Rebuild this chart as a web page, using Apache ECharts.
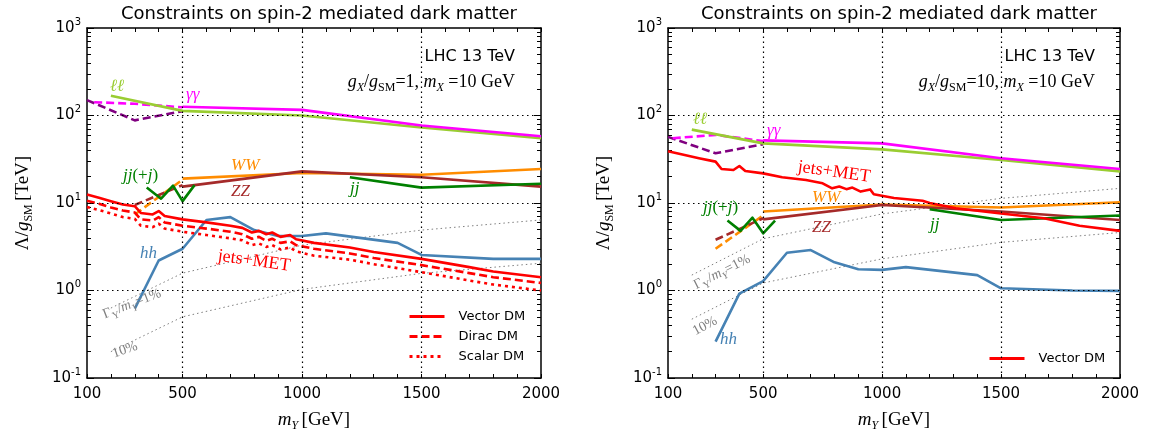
<!DOCTYPE html>
<html><head><meta charset="utf-8">
<script src="https://cdn.jsdelivr.net/npm/echarts@6/dist/echarts.min.js"></script>
<style>html,body{margin:0;padding:0;background:#fff}#c{width:1154px;height:439px}</style>
</head><body><div id="c"></div>
<script>
// ---------- axis / tick data ----------
const xTickLabels = [100, 500, 1000, 1500, 2000];
const xMinorTicks = [100,200,300,400,500,600,700,800,900,1000,1100,1200,1300,1400,1500,1600,1700,1800,1900,2000];
const yMajorTicks = [0.1, 1, 10, 100, 1000];
const yMinorTicks = [0.2,0.3,0.4,0.5,0.6,0.7,0.8,0.9,2,3,4,5,6,7,8,9,20,30,40,50,60,70,80,90,200,300,400,500,600,700,800,900];
const xGridLines = [500, 1000, 1500];
const yGridLines = [1, 10, 100];
const panelTitle = 'Constraints on spin-2 mediated dark matter';

// ---------- left panel: g_X/g_SM = 1 ----------
const L_ll = [[200,168],[500,113],[1000,100],[1500,73],[2000,55]];
const L_aa = [[500,126],[1000,116],[1500,77],[2000,58]];
const L_aaDash = [[130,142],[300,136],[500,124]];
const L_purple = [[100,150],[300,88],[500,112]];
const L_WW = [[500,19],[1000,22],[1500,21],[2000,24.5]];
const L_WWdash = [[300,7.4],[500,18.5]];
const L_ZZ = [[500,15.4],[1000,23],[1500,19.7],[2000,15.4]];
const L_ZZdash = [[300,9.5],[500,16]];
const L_jjj = [[350,15],[410,11.2],[460,15.8],[500,10.5],[550,16]];
const L_jj = [[1200,19.7],[1500,15],[2000,16.6]];
const L_hh = [[300,0.62],[400,2.2],[500,3.0],[600,6.4],[700,6.9],[800,4.9],[900,4.2],[1000,4.2],[1100,4.5],[1400,3.5],[1500,2.55],[1800,2.3],[2000,2.3]];
const L_metX = [100,150,200,250,300,325,375,400,425,500,600,700,750,790,820,850,875,910,950,975,1050,1200,1300,1500,1700,1800,2000];
const L_vector = [12.5,11.5,10.5,9.6,9.2,7.7,7.4,8.1,7.1,6.5,6.0,5.5,5.2,4.6,4.8,4.4,4.6,4.1,4.3,3.85,3.5,3.1,2.75,2.3,1.85,1.65,1.42];
const L_dirac = [10.6,9.8,8.9,8.2,7.8,6.5,6.3,6.9,6.0,5.5,5.1,4.7,4.4,3.9,4.1,3.7,3.9,3.5,3.65,3.3,3.0,2.65,2.35,1.95,1.58,1.42,1.22];
const L_scalar = [9.0,8.3,7.6,6.9,6.6,5.5,5.3,5.8,5.1,4.7,4.3,3.95,3.75,3.3,3.45,3.15,3.3,2.95,3.1,2.8,2.5,2.25,2.0,1.62,1.3,1.17,1.0];
const L_w1 = [[200,0.63],[500,1.58],[1000,3.3],[1500,4.9],[2000,6.4]];
const L_w10 = [[200,0.2],[500,0.5],[1000,1.03],[1500,1.57],[2000,2.05]];

// ---------- right panel: g_X/g_SM = 10 ----------
const R_ll = [[200,69],[500,48],[1000,41],[1500,31],[2000,23]];
const R_aa = [[500,52],[1000,48],[1500,32.5],[2000,24.5]];
const R_aaDash = [[120,55],[300,60],[500,51]];
const R_purple = [[100,57],[300,37],[500,47]];
const R_WW = [[500,8],[1000,9.6],[1500,8.9],[2000,10.2]];
const R_WWdash = [[300,3.0],[500,7.2]];
const R_ZZ = [[500,6.5],[1000,9.5],[1500,8],[2000,6.4]];
const R_ZZdash = [[300,3.8],[500,6.7]];
const R_jjj = [[350,6.3],[405,4.8],[455,6.8],[500,4.5],[550,6.3]];
const R_jj = [[1200,8.5],[1500,6.4],[2000,7.2]];
const R_hh = [[300,0.26],[400,0.92],[500,1.28],[600,2.7],[700,2.9],[800,2.1],[900,1.75],[1000,1.72],[1100,1.85],[1400,1.5],[1500,1.06],[1800,1.0],[2000,0.99]];
const R_metX = [100,170,230,300,325,375,400,425,500,580,680,750,790,820,850,875,910,950,965,1050,1170,1200,1310,1500,1680,1830,2000];
const R_vector = [39,35.4,32.5,29.7,24.5,23.8,26.5,23.2,21.8,19.7,18.3,16.8,14.7,15.4,14.4,15,13.5,14.3,12.6,11.4,10.6,10.0,8.7,7.6,6.7,5.5,4.8];
const R_w1 = [[200,1.5],[500,3.9],[1000,7.5],[1500,11.3],[2000,14.7]];
const R_w10 = [[200,0.47],[500,1.22],[1000,2.3],[1500,3.55],[2000,4.6]];

// ---------- styling ----------
const C = {ll:'#9ACD32', aa:'#FF00FF', purple:'#800080', WW:'#FF8C00', ZZ:'#A52A2A', jj:'#008000', hh:'#4682B4', met:'#FF0000', gray:'#808080'};
const SERIF = "'Liberation Serif','DejaVu Serif',serif";
const SANS = "'DejaVu Sans',sans-serif";
const DASH = [8, 4];
const DOT = [3, 4];
const LW = 2.6;

const grids = [
  {left: 87, top: 28, width: 454, height: 350},
  {left: 668, top: 28, width: 452, height: 350}
];

function zipXY(xs, ys){ return xs.map((x,i)=>[x, ys[i]]); }

const xAxes = [], yAxes = [];
const axLine = {show:true, onZero:false, lineStyle:{color:'#000', width:1.5}};
const tickLine = {color:'#000', width:1};
grids.forEach((g, gi) => {
  xAxes.push({type:'value', gridIndex:gi, min:100, max:2000, position:'bottom',
    axisLine:axLine,
    axisTick:{show:true, inside:true, length:4, customValues:xMinorTicks, lineStyle:tickLine},
    axisLabel:{show:true, customValues:xTickLabels, formatter:(v)=>String(v), color:'#000', fontSize:15, fontFamily:SANS, margin:9},
    splitLine:{show:false},
    name:'{i|m}{s|Y} {n|[GeV]}', nameLocation:'middle', nameGap:30,
    nameTextStyle:{rich:{i:{fontFamily:SERIF, fontStyle:'italic', fontSize:19, color:'#000', lineHeight:24},
      s:{fontFamily:SERIF, fontStyle:'italic', fontSize:12, color:'#000', lineHeight:12, verticalAlign:'bottom'},
      n:{fontFamily:SERIF, fontSize:19, color:'#000', lineHeight:24}}}
  });
  xAxes.push({type:'value', gridIndex:gi, min:100, max:2000, position:'top',
    axisLine:axLine,
    axisTick:{show:true, inside:true, length:4, customValues:xMinorTicks, lineStyle:tickLine},
    axisLabel:{show:false}, splitLine:{show:false}});
  const yBase = {type:'log', logBase:10, gridIndex:gi, min:0.1, max:1000, splitLine:{show:false}};
  yAxes.push(Object.assign({}, yBase, {position:'left', axisLine:axLine,
    axisTick:{show:true, inside:true, length:7, customValues:yMajorTicks, lineStyle:tickLine},
    axisLabel:{show:true, customValues:yMajorTicks, margin:6,
      formatter:(v)=>'{b|10}{s|' + Math.round(Math.log10(v)) + '}',
      rich:{b:{fontFamily:SANS, fontSize:15, color:'#000', lineHeight:22},
            s:{fontFamily:SANS, fontSize:10, color:'#000', lineHeight:12, verticalAlign:'top'}}},
    name:'{n|Λ/}{i|g}{s|SM} {n|[TeV]}', nameLocation:'middle', nameGap:52, nameRotate:90,
    nameTextStyle:{rich:{i:{fontFamily:SERIF, fontStyle:'italic', fontSize:19, color:'#000', lineHeight:24},
      s:{fontFamily:SERIF, fontSize:12, color:'#000', lineHeight:12, verticalAlign:'bottom'},
      n:{fontFamily:SERIF, fontSize:19, color:'#000', lineHeight:24}}}
  }));
  yAxes.push(Object.assign({}, yBase, {position:'left', axisLine:{show:false},
    axisTick:{show:true, inside:true, length:4, customValues:yMinorTicks, lineStyle:tickLine}, axisLabel:{show:false}}));
  yAxes.push(Object.assign({}, yBase, {position:'right', axisLine:axLine,
    axisTick:{show:true, inside:true, length:7, customValues:yMajorTicks, lineStyle:tickLine}, axisLabel:{show:false}}));
  yAxes.push(Object.assign({}, yBase, {position:'right', axisLine:{show:false},
    axisTick:{show:true, inside:true, length:4, customValues:yMinorTicks, lineStyle:tickLine}, axisLabel:{show:false}}));
});

const series = [];
function line(name, data, color, type, width, panel, z){
  series.push({type:'line', name, data, xAxisIndex: panel*2, yAxisIndex: panel*4,
    symbol:'none', silent:true, z: z || 3,
    lineStyle:{color, width, type, cap:'butt', join:'round'}, itemStyle:{color}});
}
function gridMarks(panel){
  series.push({type:'line', name:'grid'+panel, data:[], xAxisIndex: panel*2, yAxisIndex: panel*4, silent:true, z:1,
    markLine:{silent:true, symbol:'none', label:{show:false}, animation:false,
      lineStyle:{color:'#000', width:1.2, type:[1.5,3.5]},
      data: xGridLines.map(v=>({xAxis:v})).concat(yGridLines.map(v=>({yAxis:v})))}});
}

[
 {p:0, w1:L_w1, w10:L_w10, purple:L_purple, aaDash:L_aaDash, ll:L_ll, aa:L_aa, WWd:L_WWdash, ZZd:L_ZZdash, WW:L_WW, ZZ:L_ZZ, jjj:L_jjj, jj:L_jj, hh:L_hh},
 {p:1, w1:R_w1, w10:R_w10, purple:R_purple, aaDash:R_aaDash, ll:R_ll, aa:R_aa, WWd:R_WWdash, ZZd:R_ZZdash, WW:R_WW, ZZ:R_ZZ, jjj:R_jjj, jj:R_jj, hh:R_hh}
].forEach(d => {
  gridMarks(d.p);
  line('w1_'+d.p, d.w1, C.gray, [1.5,3], 1, d.p, 2);
  line('w10_'+d.p, d.w10, C.gray, [1.5,3], 1, d.p, 2);
  line('purple_'+d.p, d.purple, C.purple, DASH, LW, d.p);
  line('aad_'+d.p, d.aaDash, C.aa, DASH, LW, d.p);
  line('ll_'+d.p, d.ll, C.ll, 'solid', LW, d.p);
  line('aa_'+d.p, d.aa, C.aa, 'solid', LW, d.p);
  line('WWd_'+d.p, d.WWd, C.WW, DASH, LW, d.p);
  line('ZZd_'+d.p, d.ZZd, C.ZZ, DASH, LW, d.p);
  line('WW_'+d.p, d.WW, C.WW, 'solid', LW, d.p);
  line('ZZ_'+d.p, d.ZZ, C.ZZ, 'solid', LW, d.p);
  line('jjj_'+d.p, d.jjj, C.jj, 'solid', LW, d.p);
  line('jj_'+d.p, d.jj, C.jj, 'solid', LW, d.p);
  line('hh_'+d.p, d.hh, C.hh, 'solid', LW, d.p);
});
line('Vector DM', zipXY(L_metX, L_vector), C.met, 'solid', LW, 0, 4);
line('Dirac DM', zipXY(L_metX, L_dirac), C.met, DASH, LW, 0, 4);
line('Scalar DM', zipXY(L_metX, L_scalar), C.met, DOT, LW, 0, 4);
line('Vector DM', zipXY(R_metX, R_vector), C.met, 'solid', LW, 1, 4);

// ---------- text annotations ----------
const richMath = (size, color) => ({
  i:{fontFamily:SERIF, fontStyle:'italic', fontSize:size, fill:color, lineHeight:size+6},
  n:{fontFamily:SERIF, fontSize:size, fill:color, lineHeight:size+6},
  s:{fontFamily:SERIF, fontSize:Math.round(size*0.68), fill:color, lineHeight:Math.round(size*0.7), verticalAlign:'bottom'},
  si:{fontFamily:SERIF, fontStyle:'italic', fontSize:Math.round(size*0.68), fill:color, lineHeight:Math.round(size*0.7), verticalAlign:'bottom'}
});
function txt(x, y, text, opt){
  opt = opt || {};
  return {type:'text', x, y, rotation: opt.rot || 0, silent:true, z:100,
    style:{text, fill: opt.color || '#000', align: opt.align || 'left', verticalAlign:'middle',
      font: opt.font || ('16px ' + SANS), rich: opt.rich}};
}
const mathLabel = (size, color) => ({rich: richMath(size, color), color});
function annotations(off, gsm, T){
  const a = [];
  a.push(txt(515+off, 57, 'LHC 13 TeV', {align:'right'}));
  a.push(txt(515+off, 82, '{i|g}{si|X}{n|/}{i|g}{s|SM}{n|=' + gsm + ', }{i|m}{si|X}{n| =10 GeV}', Object.assign({align:'right'}, mathLabel(18,'#000'))));
  T.forEach(t => a.push(txt(t[0], t[1], t[2], Object.assign({rot:t[4]||0, align:t[5]||'left'}, mathLabel(t[6]||17, t[3])))));
  return a;
}
const leftTexts = [
  [110, 87, '{i|ℓℓ}', C.ll],
  [186, 95, '{i|γγ}', C.aa],
  [231, 166, '{i|WW}', C.WW],
  [231, 192, '{i|ZZ}', C.ZZ],
  [123, 176, '{i|jj}{n|(+}{i|j}{n|)}', C.jj],
  [350, 189, '{i|jj}', C.jj],
  [140, 254, '{i|hh}', C.hh],
  [254, 261, '{n|jets+MET}', C.met, -0.14, 'center', 18],
  [132, 304, '{n|Γ}{s|Y}{n|/}{i|m}{si|Y}{n|=1%}', C.gray, 0.37, 'center', 14],
  [125, 350, '{n|10%}', C.gray, 0.33, 'center', 14]
];
const rightTexts = [
  [693, 120, '{i|ℓℓ}', C.ll],
  [767, 131, '{i|γγ}', C.aa],
  [812, 198, '{i|WW}', C.WW],
  [812, 228, '{i|ZZ}', C.ZZ],
  [703, 208, '{i|jj}{n|(+}{i|j}{n|)}', C.jj],
  [930, 225, '{i|jj}', C.jj],
  [720, 340, '{i|hh}', C.hh],
  [834, 172, '{n|jets+MET}', C.met, -0.14, 'center', 18],
  [722, 272, '{n|Γ}{s|Y}{n|/}{i|m}{si|Y}{n|=1%}', C.gray, 0.47, 'center', 14],
  [705, 326, '{n|10%}', C.gray, 0.5, 'center', 14]
];

const legendBase = {orient:'vertical', itemWidth:35, itemHeight:14, itemGap:7, selectedMode:false,
  itemStyle:{opacity:0, borderWidth:0}, lineStyle:{width:3},
  textStyle:{fontFamily:SANS, fontSize:13, color:'#000', padding:[0,0,0,9]}};

const chart = echarts.init(document.getElementById('c'), null, {renderer:'canvas'});
chart.setOption({
  animation:false,
  backgroundColor:'#fff',
  title:[
    {text:panelTitle, left:314, top:0, textAlign:'center', textStyle:{fontFamily:SANS, fontSize:18, fontWeight:'normal', color:'#000'}},
    {text:panelTitle, left:894, top:0, textAlign:'center', textStyle:{fontFamily:SANS, fontSize:18, fontWeight:'normal', color:'#000'}}
  ],
  grid: grids,
  xAxis: xAxes,
  yAxis: yAxes,
  legend:[
    Object.assign({}, legendBase, {data:['Vector DM','Dirac DM','Scalar DM'], left:403, top:305}),
    Object.assign({}, legendBase, {data:['Vector DM'], left:983, top:347})
  ],
  series: series,
  graphic: annotations(0, 1, leftTexts).concat(annotations(580, 10, rightTexts))
});
</script></body></html>
